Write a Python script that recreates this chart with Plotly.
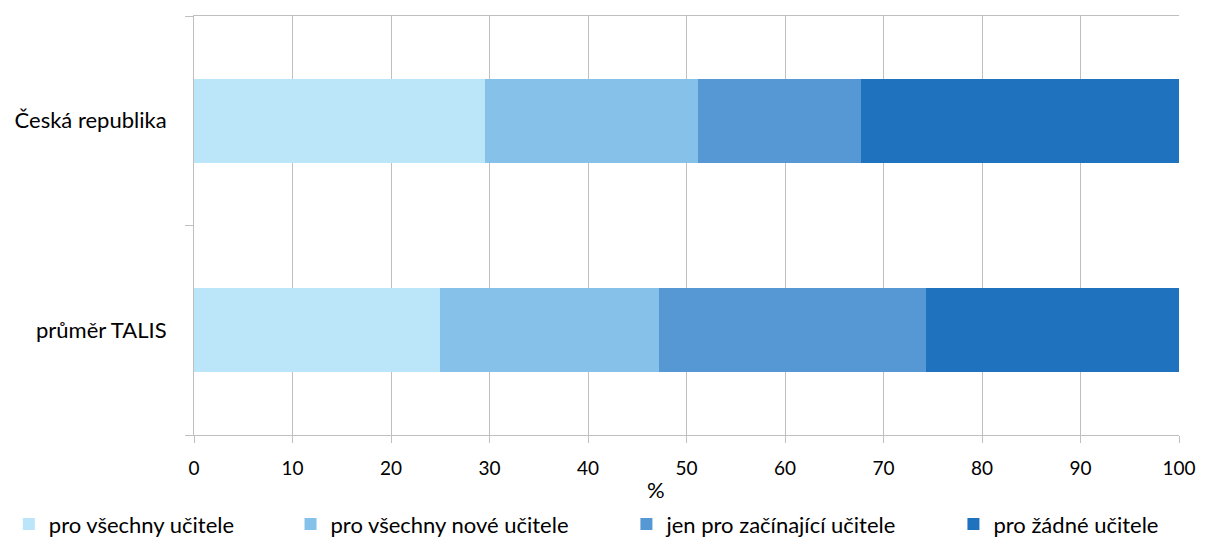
import plotly.graph_objects as go

categories = ["Česká republika", "průměr TALIS"]
series_names = ["pro všechny učitele", "pro všechny nové učitele",
                "jen pro začínající učitele", "pro žádné učitele"]
values = [
    [29.5, 25.0],
    [21.7, 22.2],
    [16.5, 27.1],
    [32.3, 25.7],
]
colors = ["#BBE5F9", "#85C1E9", "#5698D4", "#1F73BE"]
x_ticks = list(range(0, 101, 10))
x_title = "%"

FONT = "Lato"
legend_keys = ["legend2", "legend3", "legend4", "legend5"]
legend_x = [-0.188, 0.098, 0.439, 0.771]

fig = go.Figure()
for name, vals, col, lg in zip(series_names, values, colors, legend_keys):
    fig.add_trace(go.Bar(
        y=categories, x=vals, name=name, orientation="h",
        marker=dict(color=col, line=dict(width=0)),
        legend=lg, showlegend=True,
    ))

layout_legends = {}
for key, lx in zip(legend_keys, legend_x):
    layout_legends[key] = dict(
        x=lx, xref="paper", y=0.024, yref="container",
        xanchor="left", yanchor="middle",
        orientation="h", font=dict(family=FONT, size=22, color="#000000"),
        bgcolor="rgba(0,0,0,0)", itemwidth=30,
    )

fig.update_layout(
    barmode="stack",
    bargap=0.6,
    width=1195, height=529,
    margin=dict(l=181, r=17, t=7, b=102),
    plot_bgcolor="white", paper_bgcolor="white",
    font=dict(family=FONT, size=20, color="#000000"),
    showlegend=True,
    **layout_legends,
)
fig.add_annotation(
    text=x_title, xref="paper", yref="paper", x=0.469, y=-0.131,
    xanchor="center", yanchor="middle", showarrow=False,
    font=dict(family=FONT, size=22, color="#000000"),
)
fig.update_xaxes(
    range=[0, 100], tickvals=x_ticks, ticktext=[str(t) for t in x_ticks],
    showgrid=True, gridcolor="#BFBFBF", gridwidth=1,
    showline=True, linecolor="#BFBFBF", linewidth=1, mirror=True,
    ticks="outside", ticklen=7, tickcolor="#BFBFBF",
    ticklabelstandoff=9, tickfont=dict(family=FONT, size=19),
    zeroline=False,
)
fig.update_yaxes(
    categoryorder="array", categoryarray=categories[::-1],
    showgrid=False, showline=True, linecolor="#BFBFBF", linewidth=1,
    ticks="outside", ticklen=8, tickcolor="#BFBFBF", tickson="boundaries",
    ticklabelstandoff=22, tickfont=dict(family=FONT, size=22),
    range=[-0.5, 1.5],
)
fig.write_html("out.html")
